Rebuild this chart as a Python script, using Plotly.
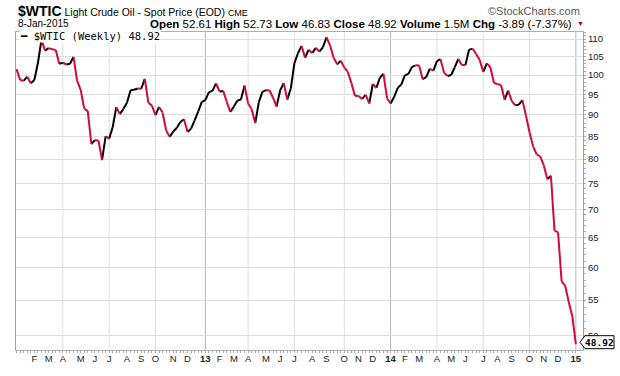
import math
import pandas as pd
import plotly.graph_objects as go

# ---------------- data (weekly closes, $WTIC, weeks starting Mon 2-Jan-2012 .. Mon 5-Jan-2015) ----------------
close_2012 = [101.56, 98.70, 98.46, 99.56, 97.84, 98.67, 103.24, 109.77, 106.70, 107.40, 107.06, 106.87,
              103.02, 103.31, 102.83, 103.05, 104.93, 98.49, 96.13, 91.48, 90.86, 83.23, 84.10, 84.03,
              79.76, 84.96, 84.45, 87.10, 91.83, 90.13, 91.40, 92.87, 96.01, 96.15, 96.47, 96.42,
              99.00, 92.89, 92.19, 89.88, 91.86, 90.50, 86.28, 84.86, 86.07, 86.92, 88.28, 88.91,
              85.93, 86.73, 88.66, 90.80]
close_2013 = [93.09, 93.56, 95.56, 95.88, 97.77, 95.72, 95.86, 93.13, 90.68, 91.95, 93.45, 93.71,
              97.23, 92.70, 91.29, 88.01, 93.00, 95.61, 96.04, 96.02, 94.15, 91.97, 96.03, 97.85,
              93.69, 96.56, 103.22, 105.95, 108.05, 104.70, 106.94, 106.03, 107.46, 106.42, 107.65, 110.53,
              108.21, 104.67, 102.87, 103.84, 102.02, 100.81, 97.85, 94.61, 94.60, 93.84, 94.84, 92.72,
              97.65, 96.60, 99.32, 100.32]
close_2014 = [93.96, 92.72, 94.37, 96.64, 97.49, 99.88, 100.30, 102.20, 102.59, 102.58, 98.89, 99.46,
              101.67, 101.14, 103.74, 104.30, 100.60, 99.76, 99.99, 102.02, 104.35, 102.71, 102.66, 106.91,
              107.26, 105.74, 104.06, 100.83, 103.13, 102.09, 97.88, 97.65, 97.35, 93.65, 95.96, 93.29,
              92.27, 92.41, 93.54, 89.74, 85.82, 82.75, 81.01, 80.54, 78.65, 75.82, 76.51, 66.15,
              65.84, 57.81, 57.13, 54.73]
close_2015 = [52.69, 48.92]

close = close_2012 + close_2013 + close_2014 + close_2015
weeks = pd.date_range("2012-01-02", periods=len(close), freq="W-MON")

y_ticks = [50, 55, 60, 65, 70, 75, 80, 85, 90, 95, 100, 105, 110]
month_letters = ["J", "F", "M", "A", "M", "J", "J", "A", "S", "O", "N", "D"]

symbol = "$WTIC"
title_text = "Light Crude Oil - Spot Price (EOD)"
exchange = "CME"
date_text = "8-Jan-2015"
quote = {"Open": "52.61", "High": "52.73", "Low": "46.83", "Close": "48.92",
         "Volume": "1.5M", "Chg": "-3.89 (-7.37%)"}

# ---------------- derived ----------------
n = len(close)
idx = list(range(n))
last = close[-1]

tick_idx, tick_txt, grid_q, grid_y = [], [], [], []
for i in range(1, n):
    d, p = weeks[i], weeks[i - 1]
    if d.month != p.month:
        tick_idx.append(i)
        if d.month == 1:
            tick_txt.append(f"<b>{d.year % 100:02d}</b>")
            grid_y.append(i)
        else:
            tick_txt.append(month_letters[d.month - 1])
            if d.month in (4, 7, 10):
                grid_q.append(i)

up_x, up_y, dn_x, dn_y = [], [], [], []
for i in range(1, n):
    if close[i] >= close[i - 1]:
        up_x += [i - 1, i, None]; up_y += [close[i - 1], close[i], None]
    else:
        dn_x += [i - 1, i, None]; dn_y += [close[i - 1], close[i], None]

BLACK = "#000000"
RED = "#d20a3c"

fig = go.Figure()
fig.add_trace(go.Scatter(x=up_x, y=up_y, mode="lines", line=dict(color=BLACK, width=2), hoverinfo="skip"))
fig.add_trace(go.Scatter(x=dn_x, y=dn_y, mode="lines", line=dict(color=RED, width=2), hoverinfo="skip"))

shapes = []
for g in grid_q:
    shapes.append(dict(type="line", xref="x", yref="paper", x0=g, x1=g, y0=0, y1=1,
                       line=dict(color="#dedede", width=1), layer="below"))
for g in grid_y:
    shapes.append(dict(type="line", xref="x", yref="paper", x0=g, x1=g, y0=0, y1=1,
                       line=dict(color="#b4b4b4", width=1), layer="below"))
# last value tag
shapes.append(dict(type="path", xref="paper", yref="y", xsizemode="pixel", ysizemode="pixel",
                   xanchor=1, yanchor=last,
                   path="M-3,2 L2,8.5 L31,8.5 L31,-4.5 L2,-4.5 Z",
                   line=dict(color="#000", width=1), fillcolor="white", layer="above"))

L, R, T, B = 16, 583, 32, 358
def px(xp):
    return (xp - L) / (R - L)
def py(yp):
    return (B - yp) / (B - T)

quote_txt = " ".join(f"<b>{k}</b> {v}" for k, v in quote.items())

annotations = [
    dict(xref="paper", yref="paper", x=px(16), y=py(10), xanchor="left", yanchor="middle", showarrow=False,
         text=f"<span style='font-size:14px'><b>{symbol}</b></span> {title_text} "
              f"<span style='font-size:9px'>{exchange}</span>",
         font=dict(size=10.5, color="#000")),
    dict(xref="paper", yref="paper", x=px(16), y=py(23.5), xanchor="left", yanchor="middle", showarrow=False,
         text=date_text, font=dict(size=10, color="#000")),
    dict(xref="paper", yref="paper", x=px(574), y=py(23.5), xanchor="right", yanchor="middle", showarrow=False,
         text=quote_txt, font=dict(size=11.5, color="#000")),
    dict(xref="paper", yref="paper", x=px(580), y=py(23.5), xanchor="center", yanchor="middle", showarrow=False,
         text="▼", font=dict(size=7, color="#9b0030")),
    dict(xref="paper", yref="paper", x=px(582), y=py(10), xanchor="right", yanchor="middle", showarrow=False,
         text="©StockCharts.com", font=dict(size=11, color="#555")),
    dict(xref="paper", yref="paper", x=px(19), y=py(36.5), xanchor="left", yanchor="middle", showarrow=False,
         text=f"━ {symbol} (Weekly) {last:.2f}", bgcolor="white", borderpad=0,
         font=dict(family="DejaVu Sans Mono, monospace", size=10.5, color="#000")),
    dict(xref="paper", yref="y", x=1, y=math.log10(last), xshift=16.5, yshift=2,
         xanchor="center", yanchor="middle", showarrow=False,
         text=f"<b>{last:.2f}</b>", font=dict(family="DejaVu Sans Mono, monospace", size=9.5, color="#000")),
]

fig.update_layout(
    width=620, height=376,
    margin=dict(l=L, r=620 - R, t=T, b=376 - B),
    paper_bgcolor="white", plot_bgcolor="white",
    showlegend=False,
    font=dict(family="Liberation Sans, Arial, sans-serif", size=10, color="#000"),
    shapes=shapes, annotations=annotations,
    xaxis=dict(type="linear", range=[-0.15, 159.0], tickmode="array", tickvals=tick_idx, ticktext=tick_txt,
               showgrid=False, zeroline=False, showline=True, linecolor="#b0b0b0", mirror=True,
               ticks="", tickfont=dict(size=9.5, color="#222"),
               minor=dict(tickmode="array", tickvals=idx, ticks="outside", ticklen=2, tickcolor="#aaa")),
    yaxis=dict(type="log", side="right", range=[1.6828, 2.0496], tickmode="array",
               tickvals=y_ticks, ticktext=[str(v) for v in y_ticks],
               showgrid=True, gridcolor="#dedede", gridwidth=1, zeroline=False,
               showline=True, linecolor="#a0a0a0", mirror=True,
               ticks="outside", ticklen=2, tickcolor="#aaa", tickfont=dict(size=9.5, color="#222"),
               minor=dict(tickmode="array", tickvals=list(range(48, 113)), ticks="outside", ticklen=2,
                          tickcolor="#aaa", showgrid=False)),
)

fig.write_html("out.html", config={"displayModeBar": False},
               post_script="document.body.style.margin='0px';")
